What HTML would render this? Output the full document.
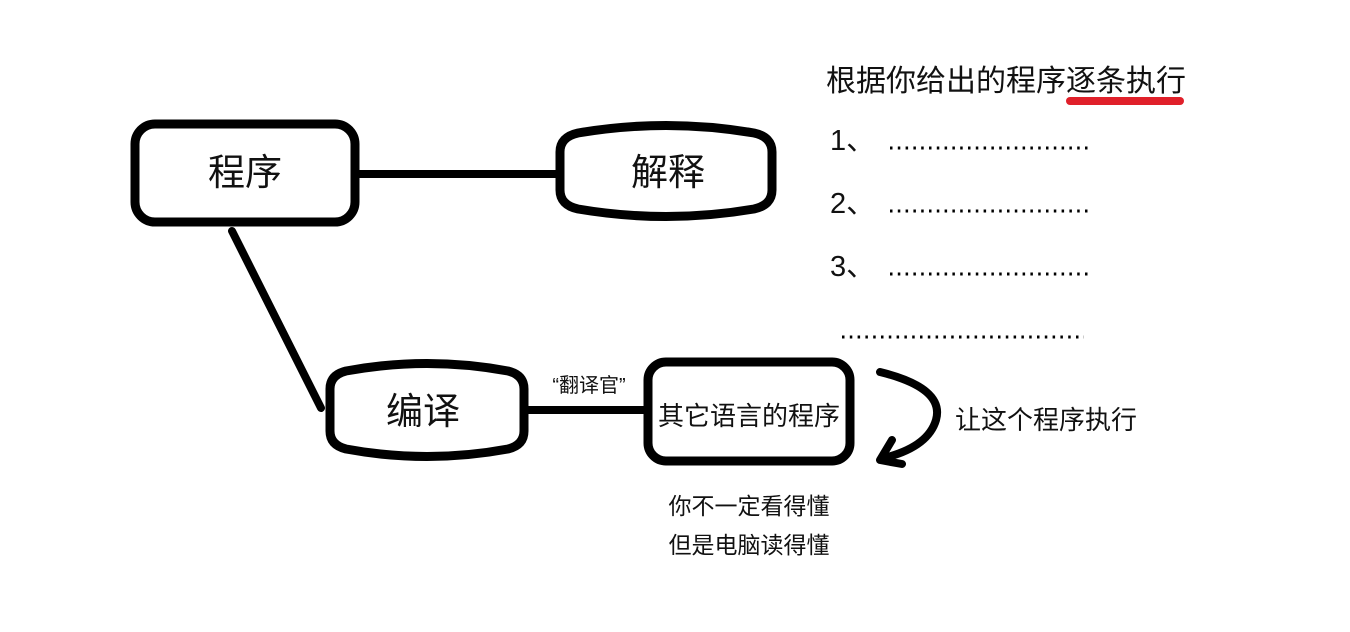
<!DOCTYPE html>
<html><head><meta charset="utf-8"><style>
body{margin:0;background:#fff;}
svg text{font-family:"Liberation Sans","Noto Sans CJK SC",sans-serif;fill:#111;}
</style></head><body>
<svg width="1350" height="627" viewBox="0 0 1350 627" xmlns="http://www.w3.org/2000/svg">
<rect width="1350" height="627" fill="#fff"/>
<g fill="none" stroke="#000" stroke-linecap="round" stroke-linejoin="round">
<rect x="135" y="124" width="220" height="98" rx="20" stroke-width="9"/>
<line x1="356" y1="174" x2="560" y2="174" stroke-width="8"/>
<path d="M560,152 Q560,137 578,133 Q666,118 754,133 Q772,137 772,152 L772,190 Q772,205 754,209 Q666,224 578,209 Q560,205 560,190 Z" stroke-width="9"/>
<line x1="232" y1="231" x2="321" y2="408" stroke-width="8"/>
<path d="M330,389 Q330,375 346,371 Q427,356 508,371 Q524,375 524,389 L524,431 Q524,445 508,449 Q427,464 346,449 Q330,445 330,431 Z" stroke-width="9"/>
<line x1="528" y1="410" x2="646" y2="410" stroke-width="8"/>
<rect x="648" y="362" width="202" height="99" rx="18" stroke-width="9"/>
<path d="M880,372 Q945,388 936,420 Q928,447 884,458" stroke-width="8"/>
<path d="M892,440 L880,460 L902,464" stroke-width="8"/>
<line x1="1070" y1="101" x2="1180" y2="101" stroke="#e0202a" stroke-width="8"/>
</g>
<text x="245" y="185" font-size="37" text-anchor="middle">程序</text>
<text x="668" y="185" font-size="37" text-anchor="middle">解释</text>
<text x="423" y="424" font-size="37" text-anchor="middle">编译</text>
<text x="589" y="392" font-size="20" text-anchor="middle">“翻译官”</text>
<text x="749" y="425" font-size="26" text-anchor="middle">其它语言的程序</text>
<text x="955" y="429" font-size="26">让这个程序执行</text>
<text x="749" y="514" font-size="23" text-anchor="middle">你不一定看得懂</text>
<text x="749" y="553" font-size="23" text-anchor="middle">但是电脑读得懂</text>
<text x="826" y="91" font-size="30">根据你给出的程序逐条执行</text>
<text x="830" y="150" font-size="29">1、</text>
<text x="830" y="213" font-size="29">2、</text>
<text x="830" y="276" font-size="29">3、</text>
<g>
<line x1="890" y1="148" x2="1092" y2="148" stroke="#000" stroke-width="3" stroke-dasharray="2.5 5.3"/>
<line x1="890" y1="211" x2="1092" y2="211" stroke="#000" stroke-width="3" stroke-dasharray="2.5 5.3"/>
<line x1="890" y1="274" x2="1092" y2="274" stroke="#000" stroke-width="3" stroke-dasharray="2.5 5.3"/>
<line x1="842" y1="337" x2="1084" y2="337" stroke="#000" stroke-width="3" stroke-dasharray="2.5 5.3"/>
</g>
</svg>
</body></html>
